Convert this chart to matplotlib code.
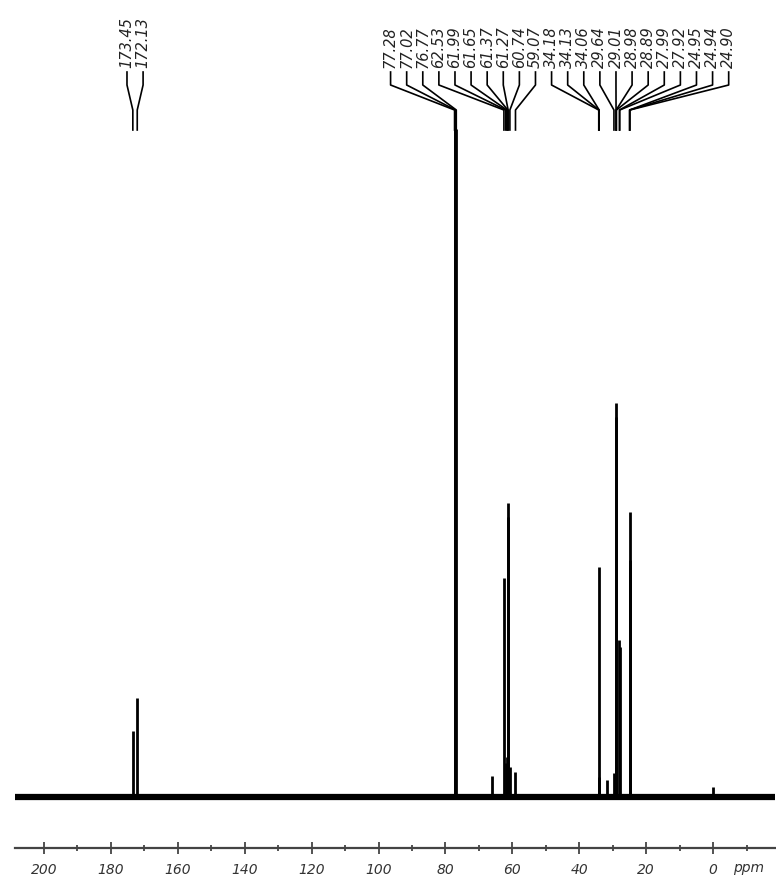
import matplotlib.pyplot as plt
import numpy as np
from matplotlib.lines import Line2D

# peak table: shift (ppm) and intensity above baseline
shifts = [173.45, 172.13, 77.28, 77.02, 76.77, 66.10, 62.53, 61.99, 61.65,
          61.37, 61.27, 60.74, 59.07, 34.18, 34.13, 34.06, 31.70, 29.64,
          29.01, 28.98, 28.89, 27.99, 27.92, 24.95, 24.94, 24.90, 0.00]
heights = [66, 99, 668, 670, 668, 21, 219, 34, 40,
           294, 280, 30, 25, 20, 230, 18, 17, 24,
           394, 380, 30, 157, 150, 237, 230, 285, 10]

# peaks that carry a printed shift label
labelled = [173.45, 172.13, 77.28, 77.02, 76.77, 62.53, 61.99, 61.65, 61.37,
            61.27, 60.74, 59.07, 34.18, 34.13, 34.06, 29.64, 29.01, 28.98,
            28.89, 27.99, 27.92, 24.95, 24.94, 24.90]

major_ticks = [200, 180, 160, 140, 120, 100, 80, 60, 40, 20, 0]
minor_ticks = [190, 170, 150, 130, 110, 90, 70, 50, 30, 10, -10]

W, H = 776, 881
fig = plt.figure(figsize=(W / 100, H / 100), dpi=100)
ax = fig.add_axes([15 / W, (H - 848) / H, 760 / W, (848 - 132) / H])
ax.set_xlim(208.67, -18.5)
ax.set_ylim(-51, 665)

# baseline band and stick peaks
ax.axhline(0, color='black', lw=4.5, zorder=2)
ax.vlines(shifts, 0, heights, color='black', lw=2, zorder=3, clip_on=False)

for s in ['top', 'left', 'right']:
    ax.spines[s].set_visible(False)
ax.spines['bottom'].set_color('#444444')
ax.spines['bottom'].set_linewidth(1.6)
ax.set_yticks([])
ax.set_xticks(major_ticks)
ax.set_xticks(minor_ticks, minor=True)
ax.set_xticklabels([str(t) for t in major_ticks])
ax.tick_params(axis='x', which='major', direction='inout', length=9, width=1.3,
               color='#444444', pad=6, labelsize=10, labelcolor='#333333')
ax.tick_params(axis='x', which='minor', direction='inout', length=5, width=1.3,
               color='#444444')
for lab in ax.get_xticklabels():
    lab.set_fontstyle('italic')
ax.annotate('ppm', xy=(-10.5, 0), xycoords=('data', 'axes fraction'),
            xytext=(0, -13), textcoords='offset pixels',
            ha='center', va='top', fontsize=10, style='italic', color='#333333')

# label layout: spread labels evenly, merging clusters that would overlap
px = [ax.transData.transform((p, 0))[0] for p in labelled]
order = np.argsort(px)
gap = 16.1
clusters = [[i] for i in order]

def place(cl):
    c = np.mean([px[i] for i in cl])
    n = len(cl)
    return [c + (k - (n - 1) / 2) * gap for k in range(n)]

merged = True
while merged:
    merged = False
    for j in range(len(clusters) - 1):
        a, b = place(clusters[j]), place(clusters[j + 1])
        if b[0] - a[-1] < gap:
            clusters[j] = clusters[j] + clusters[j + 1]
            del clusters[j + 1]
            merged = True
            break

def fy(y):
    return 1 - y / H

for cl in clusters:
    for i, lx in zip(cl, place(cl)):
        p = px[i]
        fig.text(lx / W, fy(68), f'{labelled[i]:.2f}', rotation=90,
                 ha='center', va='bottom', fontsize=10.5, style='italic',
                 color='#222222')
        xs = np.array([lx, lx, p, p]) / W
        ys = [fy(72), fy(85), fy(110), fy(130)]
        fig.add_artist(Line2D(xs, ys, color='black', lw=1.2))

fig.savefig('out.png', dpi=100)
